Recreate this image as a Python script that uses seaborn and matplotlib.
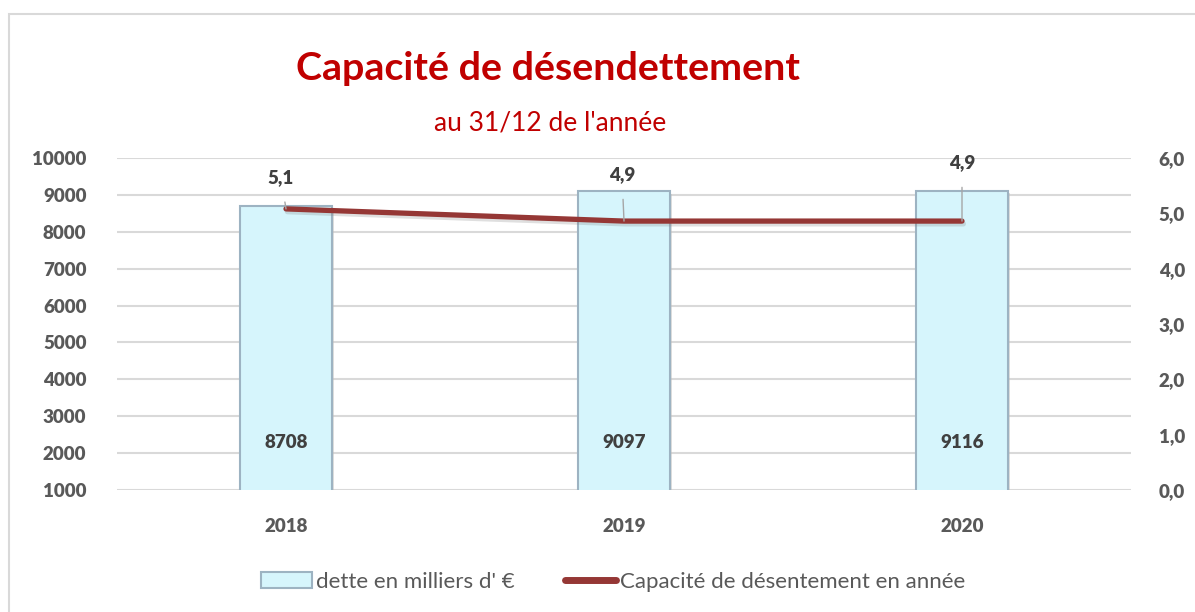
import matplotlib
matplotlib.use("Agg")
import matplotlib.pyplot as plt
import matplotlib.patheffects as pe
from matplotlib.patches import Patch, Rectangle
from matplotlib.lines import Line2D
import seaborn as sns
import numpy as np
import pandas as pd

# ---- data ----
years = ["2018", "2019", "2020"]
dette = [8708, 9097, 9116]
capacite = [5.08, 4.86, 4.86]
left_ticks = [1000, 2000, 3000, 4000, 5000, 6000, 7000, 8000, 9000, 10000]
right_ticks = [0, 1, 2, 3, 4, 5, 6]
title = "Capacité de désendettement"
subtitle = "au 31/12 de l'année"
bar_label = "dette en milliers d' €"
line_label = "Capacité de désentement en année"

sns.set_theme(style="white")
plt.rcParams["font.family"] = ["Lato", "DejaVu Sans"]

TICK = "#595959"
LAB = "#404040"
RED = "#C00000"
LINE = "#953735"
BAR_FC = "#D6F5FC"
BAR_EC = "#9DB3C2"
WEIGHT = "heavy"

df = pd.DataFrame({"year": years, "dette": dette, "capacite": capacite})
df["pos"] = np.arange(len(df))

fig = plt.figure(figsize=(11.95, 6.12), dpi=100)
W, H = 1195, 612
ax = fig.add_axes([117 / W, 1 - 490 / H, (1131 - 117) / W, (490 - 158) / H])

# outer border
fig.patches.append(Rectangle((9 / W, -0.1), 1.2, 1.1 - 14 / H, transform=fig.transFigure,
                             fill=False, edgecolor="#D9D9D9", lw=1.5, zorder=0))

sns.barplot(data=df, x="year", y="dette", ax=ax, width=0.27,
            color=BAR_FC, edgecolor=BAR_EC, linewidth=1.5, saturation=1)
for p in ax.patches:
    p.set_path_effects([pe.SimplePatchShadow(offset=(2, -2), shadow_rgbFace="#BFBFBF", alpha=0.5), pe.Normal()])

ax.set_ylim(1000, 10000)
ax.set_xlim(-0.5, 2.5)
ax.set_yticks(left_ticks)
ax.set_yticklabels([str(t) for t in left_ticks])
ax.yaxis.grid(True, color="#D9D9D9", lw=1.5)
ax.set_axisbelow(True)
for s in ax.spines.values():
    s.set_visible(False)
ax.set_xlabel("")
ax.set_ylabel("")
ax.tick_params(axis="y", length=0, pad=22, labelsize=13.5, labelcolor=TICK)
ax.tick_params(axis="x", length=0, pad=20, labelsize=13.5, labelcolor=TICK)
for lab in ax.get_xticklabels() + ax.get_yticklabels():
    lab.set_fontweight(WEIGHT)

# bar value labels
for i, v in enumerate(dette):
    ax.annotate(str(v), xy=(i, 1000), xytext=(0, 48), textcoords="offset pixels",
                ha="center", va="center", fontsize=13.5, fontweight=WEIGHT, color=LAB)

ax2 = ax.twinx()
sns.lineplot(data=df, x="pos", y="capacite", ax=ax2, color=LINE, lw=3.8,
             solid_capstyle="round",
             path_effects=[pe.SimpleLineShadow(offset=(1, -2), shadow_color="#808080", alpha=0.25), pe.Normal()])
ax2.set_ylim(0, 6)
ax2.set_yticks(right_ticks)
ax2.set_yticklabels([f"{t:.1f}".replace(".", ",") for t in right_ticks])
ax2.set_xlim(-0.5, 2.5)
ax2.set_xlabel("")
ax2.set_ylabel("")
for s in ax2.spines.values():
    s.set_visible(False)
ax2.tick_params(axis="y", length=0, pad=20, labelsize=13.5, labelcolor=TICK)
for lab in ax2.get_yticklabels():
    lab.set_fontweight(WEIGHT)

offsets = [(-5, 31), (-2, 46), (0, 58)]
for i, v in enumerate(capacite):
    dx, dy = offsets[i]
    ax2.annotate(f"{v:.1f}".replace(".", ","), xy=(i, v), xytext=(dx, dy),
                 textcoords="offset pixels", ha="center", va="center",
                 fontsize=13.5, fontweight=WEIGHT, color=LAB,
                 arrowprops=dict(arrowstyle="-", color="#A6A6A6", lw=1, shrinkA=9, shrinkB=0))

fig.text(548 / W, 1 - 68 / H, title, ha="center", va="center", fontsize=28.4,
         fontweight="bold", color=RED)
fig.text(550 / W, 1 - 123 / H, subtitle, ha="center", va="center", fontsize=19, color=RED)

handles = [Patch(facecolor=BAR_FC, edgecolor=BAR_EC, lw=1.5),
           Line2D([0], [0], color=LINE, lw=5, solid_capstyle="round")]
fig.legend(handles, [bar_label, line_label], loc="center", bbox_to_anchor=(613 / W, 1 - 582 / H),
           ncol=2, frameon=False, fontsize=16, labelcolor=TICK, handlelength=2.3,
           handleheight=0.7, handletextpad=0.15, columnspacing=2.3)

fig.savefig("out.png", dpi=100)
